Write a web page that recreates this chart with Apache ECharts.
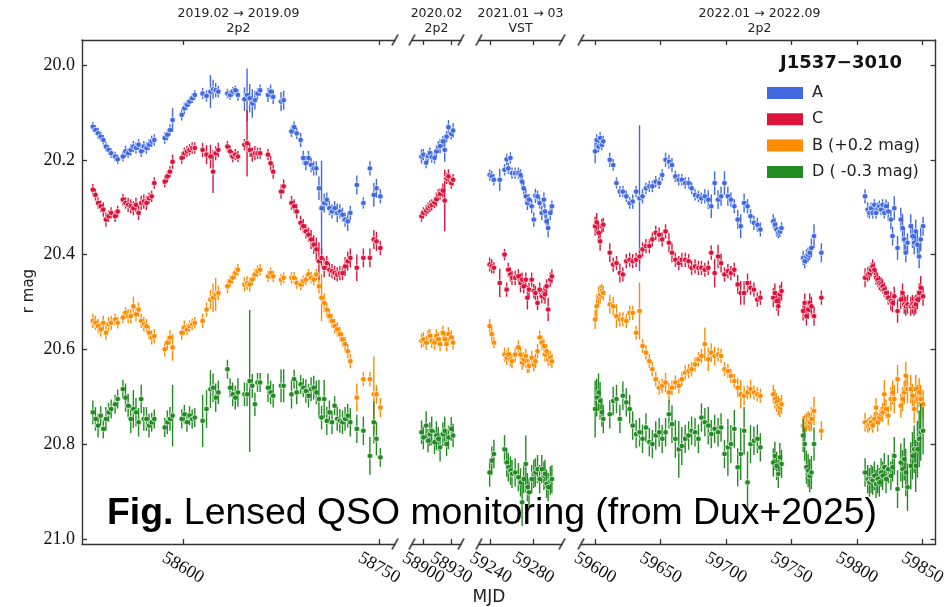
<!DOCTYPE html>
<html><head><meta charset="utf-8">
<script src="https://cdn.jsdelivr.net/npm/echarts@6/dist/echarts.min.js"></script>
<style>html,body{margin:0;padding:0;background:#fff}#c{width:949px;height:607px}</style>
</head><body><div id="c"></div>
<script>
// ---------------- DATA ----------------
const seriesNames = ['A', 'C', 'B (+0.2 mag)', 'D ( -0.3 mag)'];
const seriesColors = ['#4169E1', '#DC143C', '#FF8C00', '#228B22'];
const objectName = 'J1537\u22123010';
const panelTitles = [['2019.02 \u2192 2019.09', '2p2'], ['2020.02', '2p2'], ['2021.01 \u2192 03', 'VST'], ['2022.01 \u2192 2022.09', '2p2']];
const xTicks1 = [58600, 58750];
const xTicks2 = [58900, 58930];
const xTicks3 = [59240, 59280];
const xTicks4 = [59600, 59650, 59700, 59750, 59800, 59850];
const yTicks = [20.0, 20.2, 20.4, 20.6, 20.8, 21.0];

// Panel 1 (2019)
const mjd1 = [58531, 58533, 58535, 58537, 58539, 58541, 58543, 58545, 58548, 58550, 58554, 58556, 58558, 58560, 58562, 58564, 58566, 58568, 58570, 58572, 58574, 58576, 58578,
  58586, 58588, 58590, 58592,
  58599, 58601, 58603, 58605, 58607, 58609,
  58615, 58618, 58621, 58623, 58625, 58627,
  58634, 58636, 58638, 58640, 58642,
  58647, 58649, 58651, 58653, 58655, 58657, 58659,
  58665, 58667, 58669,
  58675, 58677,
  58683, 58685, 58687, 58690, 58692, 58694, 58696, 58698, 58700, 58702, 58704, 58706, 58708, 58710, 58712, 58714, 58716, 58718, 58720, 58722, 58724, 58726, 58728,
  58733, 58738, 58743, 58746, 58748, 58751];
const A1 = [20.130, 20.137, 20.144, 20.151, 20.158, 20.172, 20.179, 20.186, 20.193, 20.199, 20.193, 20.182, 20.186, 20.179, 20.172, 20.175, 20.168, 20.182, 20.172, 20.175, 20.168, 20.161, 20.158,
  20.154, 20.147, 20.137, 20.116,
  20.105, 20.091, 20.084, 20.077, 20.070, 20.063,
  20.060, 20.065, 20.056, 20.051, 20.053, 20.056,
  20.060, 20.063, 20.056, 20.053, 20.063,
  20.072, 20.063, 20.070, 20.081, 20.074, 20.060, 20.053,
  20.063, 20.056, 20.067,
  20.077, 20.074,
  20.140, 20.131, 20.144, 20.158, 20.196, 20.207, 20.196, 20.211, 20.218, 20.218, 20.260, 20.302, 20.291, 20.284, 20.302, 20.309, 20.302, 20.312, 20.309, 20.316, 20.326, 20.330, 20.312,
  20.253, 20.291, 20.218, 20.274, 20.260, 20.277];
const C1 = [20.263, 20.274, 20.291, 20.298, 20.305, 20.326, 20.319, 20.312, 20.319, 20.309, 20.284, 20.291, 20.295, 20.298, 20.302, 20.295, 20.312, 20.291, 20.288, 20.291, 20.281, 20.277, 20.249,
  20.246, 20.235, 20.225, 20.204,
  20.196, 20.186, 20.182, 20.179, 20.175, 20.175,
  20.179, 20.189, 20.193, 20.225, 20.186, 20.179,
  20.172, 20.182, 20.193, 20.189, 20.193,
  20.168, 20.165, 20.179, 20.189, 20.186, 20.186, 20.186,
  20.189, 20.207, 20.225,
  20.267, 20.256,
  20.291, 20.298, 20.309, 20.333, 20.340, 20.351, 20.358, 20.368, 20.379, 20.389, 20.414, 20.407, 20.428, 20.418, 20.432, 20.435, 20.439, 20.442, 20.439, 20.439, 20.425, 20.414, 20.407,
  20.428, 20.407, 20.407, 20.368, 20.372, 20.386];
const B1 = [20.540, 20.544, 20.551, 20.558, 20.544, 20.565, 20.547, 20.544, 20.537, 20.544, 20.533, 20.523, 20.530, 20.530, 20.509, 20.526, 20.516, 20.540, 20.547, 20.551, 20.565, 20.575, 20.572,
  20.600, 20.586, 20.575, 20.596,
  20.565, 20.554, 20.558, 20.551, 20.547, 20.544,
  20.540, 20.516, 20.495, 20.491, 20.484, 20.481,
  20.467, 20.456, 20.449, 20.439, 20.432,
  20.463, 20.460, 20.463, 20.453, 20.442, 20.435, 20.432,
  20.446, 20.439, 20.446,
  20.453, 20.449,
  20.449, 20.449, 20.460, 20.463, 20.456, 20.453, 20.442, 20.449, 20.453, 20.442, 20.467, 20.491, 20.502, 20.516, 20.530, 20.540, 20.551, 20.558, 20.568, 20.579, 20.589, 20.604, 20.625,
  20.702, 20.663, 20.663, 20.695, 20.695, 20.723];
const D1 = [20.733, 20.747, 20.761, 20.740, 20.768, 20.747, 20.733, 20.726, 20.716, 20.705, 20.684, 20.702, 20.719, 20.747, 20.726, 20.733, 20.754, 20.705, 20.747, 20.747, 20.761, 20.754, 20.747,
  20.765, 20.754, 20.747, 20.740,
  20.747, 20.737, 20.754, 20.740, 20.747, 20.744,
  20.751, 20.726, 20.684, 20.681, 20.702, 20.691,
  20.642, 20.681, 20.695, 20.702, 20.691,
  20.695, 20.695, 20.667, 20.677, 20.716, 20.670, 20.670,
  20.681, 20.691, 20.698,
  20.677, 20.677,
  20.695, 20.663, 20.691, 20.674, 20.681, 20.688, 20.698, 20.684, 20.681, 20.691, 20.705, 20.744, 20.705, 20.751, 20.733, 20.754, 20.719, 20.747, 20.751, 20.754, 20.747, 20.740, 20.754,
  20.768, 20.772, 20.825, 20.754, 20.789, 20.828];
// errors in mmag
const eA1 = [10,10,12,10,10,10,10,10,10,10,10,12,10,12,12,12,12,12,12,12,12,12,12, 12,12,12,25, 12,12,10,10,10,10, 12,12,35,20,15,12, 10,10,10,10,12, 25,56,30,30,20,12,12, 15,15,15, 20,20,
  12,12,12,15,15,15,15,15,15,15,25,100,20,15,15,15,15,20,15,15,15,20,15, 20,12,15,25,20,15];
const eC1 = [12,12,12,12,15,15,12,12,12,12,12,12,15,15,15,15,15,15,15,15,12,12,12, 12,12,12,15, 12,12,12,12,12,12, 15,20,25,45,15,15, 12,12,12,12,12, 12,70,15,15,15,12,12, 12,15,15, 15,15,
  15,15,15,15,15,15,15,20,20,25,40,20,20,15,15,15,15,15,15,15,20,20,20, 28,20,20,20,20,15];
const eB1 = [15,15,15,15,15,15,15,15,12,12,12,12,15,15,20,15,15,15,15,15,15,15,15, 15,15,15,28, 15,15,12,12,12,12, 15,15,20,30,35,15, 15,12,12,12,12, 15,15,15,12,12,12,12, 12,12,12, 12,12,
  12,12,12,12,12,12,12,12,12,12,15,50,20,15,15,15,15,15,15,15,15,15,15, 30,15,15,80,20,20];
const eD1 = [25,25,25,20,20,25,20,20,20,20,20,30,25,30,40,30,30,30,25,25,25,20,20, 20,25,25,65, 20,20,20,20,20,20, 55,40,40,30,30,25, 20,20,25,25,30, 25,25,150,25,25,20,20, 30,25,25, 35,35,
  30,20,25,20,20,25,25,25,25,25,40,25,40,30,25,25,20,25,25,25,25,25,30, 30,30,40,45,35,20];

// Panel 2 (2020.02)
const mjd2 = [58898, 58900, 58903, 58905, 58907, 58909, 58912, 58914, 58916, 58918, 58921, 58923, 58925, 58927, 58930, 58932];
const A2 = [20.193, 20.189, 20.206, 20.192, 20.186, 20.194, 20.196, 20.182, 20.173, 20.171, 20.161, 20.179, 20.151, 20.131, 20.145, 20.138];
const C2 = [20.319, 20.312, 20.307, 20.302, 20.298, 20.295, 20.290, 20.283, 20.274, 20.272, 20.265, 20.286, 20.239, 20.235, 20.249, 20.242];
const B2 = [20.582, 20.579, 20.586, 20.575, 20.572, 20.582, 20.586, 20.572, 20.579, 20.589, 20.565, 20.579, 20.589, 20.568, 20.575, 20.586];
const D2 = [20.775, 20.786, 20.761, 20.793, 20.779, 20.772, 20.796, 20.782, 20.789, 20.807, 20.779, 20.772, 20.800, 20.786, 20.768, 20.782];
const eA2 = [15,12,12,12,12,12,12,12,12,15,12,25,12,15,12,15];
const eC2 = [12,12,12,12,12,12,12,15,12,12,15,65,12,15,12,12];
const eB2 = [15,15,15,15,15,15,15,15,15,15,15,15,15,15,15,15];
const eD2 = [25,25,30,25,25,30,25,30,25,30,25,30,25,25,25,25];

// Panel 3 (2021, VST)
const mjd3 = [59239, 59241, 59243, 59248.5, 59253, 59255, 59256.5, 59258.5, 59260, 59263, 59266, 59268, 59269.5, 59271, 59273, 59274.5, 59276, 59278.5, 59280.5, 59282, 59284, 59286, 59288, 59290, 59291, 59292.5, 59294, 59296, 59297.5];
const A3 = [20.232, 20.235, 20.242, 20.242, 20.221, 20.199, 20.218, 20.196, 20.228, 20.228, 20.228, 20.232, 20.246, 20.260, 20.277, 20.291, 20.284, 20.298, 20.326, 20.276, 20.277, 20.291, 20.312, 20.284, 20.309, 20.330, 20.344, 20.312, 20.298];
const C3 = [20.421, 20.425, 20.428, 20.460, 20.400, 20.474, 20.432, 20.442, 20.449, 20.449, 20.446, 20.460, 20.453, 20.467, 20.453, 20.491, 20.474, 20.453, 20.477, 20.481, 20.502, 20.474, 20.488, 20.481, 20.484, 20.467, 20.516, 20.453, 20.446];
const B3 = [20.551, 20.568, 20.586, null, 20.611, 20.618, 20.611, 20.621, 20.625, 20.611, 20.596, 20.611, 20.628, 20.621, 20.614, 20.635, 20.635, 20.618, 20.632, 20.625, 20.604, 20.575, 20.586, 20.593, 20.611, 20.604, 20.621, 20.618, 20.625];
const D3 = [20.860, 20.835, 20.821, null, 20.811, 20.839, 20.849, 20.856, 20.863, 20.860, 20.870, 20.881, 20.923, 20.874, 20.842, 20.891, 20.902, 20.874, 20.863, 20.860, 20.853, 20.874, 20.853, 20.867, 20.863, 20.884, 20.891, 20.877, 20.874];
const eA3 = [12,12,12,23,12,12,12,12,12,12,12,12,12,12,15,15,12,15,15,15,12,12,15,15,15,15,20,15,12];
const eC3 = [15,15,12,30,12,15,15,15,15,15,15,20,15,15,15,25,15,15,15,15,15,15,15,15,20,15,25,15,15];
const eB3 = [15,15,12,0,15,15,15,15,15,15,15,15,15,15,15,15,15,15,15,15,15,15,15,15,15,15,15,15,15];
const eD3 = [30,30,30,0,30,30,30,30,30,30,30,30,50,30,60,30,30,30,30,30,30,30,30,30,30,30,30,30,30];

// Panel 4 (2022)
const mjd4 = [59600.0, 59601.2, 59602.6, 59603.8, 59605.1, 59606.2,
  59611.2, 59613.8, 59616.3, 59618.9, 59621.2, 59623.8, 59626.4, 59628.7, 59631.3, 59633.9, 59636.2, 59638.8, 59641.4, 59643.7, 59646.3, 59648.9, 59651.2, 59653.8, 59656.4, 59658.7, 59661.3, 59663.9, 59666.2, 59668.8, 59671.4, 59673.7, 59676.3, 59678.9, 59681.2, 59683.8, 59686.4, 59688.7, 59691.3, 59693.9, 59696.2, 59698.8, 59701.4, 59703.7, 59706.3, 59708.9, 59711.2, 59713.8, 59716.4, 59718.7, 59721.3, 59723.9, 59726.2,
  59736.1, 59737.3, 59738.6, 59739.9, 59741.1, 59742.4,
  59758.9, 59760.1, 59761.4, 59762.7, 59763.9, 59765.2, 59767.2, 59772.8,
  59806.2, 59808.2, 59809.5, 59810.8, 59812.0, 59813.3, 59814.6, 59815.8, 59817.1, 59818.4, 59819.6, 59820.9, 59822.2, 59823.9, 59825.9, 59827.2, 59828.5, 59831.0, 59833.5, 59834.8, 59836.1, 59837.3, 59838.6, 59841.1, 59842.4, 59843.7, 59844.9, 59846.2, 59847.5, 59848.7, 59850.5];
const A4 = [20.182, 20.158, 20.172, 20.154, 20.168, 20.161,
  20.200, 20.211, 20.249, 20.267, 20.267, 20.277, 20.291, 20.288, 20.267, 20.281, 20.277, 20.260, 20.256, 20.256, 20.246, 20.249, 20.232, 20.200, 20.204, 20.211, 20.235, 20.242, 20.242, 20.249, 20.249, 20.260, 20.274, 20.277, 20.281, 20.277, 20.284, 20.298, 20.249, 20.284, 20.277, 20.249, 20.277, 20.284, 20.298, 20.326, 20.340, 20.291, 20.298, 20.319, 20.333, 20.337, 20.347,
  20.330, 20.337, 20.347, 20.354, 20.351, 20.344,
  20.407, 20.414, 20.404, 20.400, 20.396, 20.386, 20.361, 20.396,
  20.277, 20.305, 20.312, 20.302, 20.312, 20.295, 20.312, 20.302, 20.298, 20.305, 20.295, 20.312, 20.298, 20.309, 20.326, 20.361, 20.302, 20.386, 20.326, 20.344, 20.368, 20.396, 20.375, 20.340, 20.361, 20.375, 20.351, 20.379, 20.404, 20.368, 20.340];
const C4 = [20.340, 20.332, 20.354, 20.372, 20.340, 20.337,
  20.396, 20.421, 20.418, 20.439, 20.442, 20.414, 20.411, 20.414, 20.411, 20.404, 20.389, 20.382, 20.382, 20.368, 20.354, 20.358, 20.368, 20.351, 20.375, 20.396, 20.411, 20.418, 20.411, 20.411, 20.414, 20.428, 20.425, 20.428, 20.428, 20.432, 20.428, 20.396, 20.439, 20.404, 20.418, 20.442, 20.435, 20.439, 20.432, 20.463, 20.481, 20.481, 20.460, 20.470, 20.474, 20.495, 20.491,
  20.491, 20.481, 20.498, 20.509, 20.484, 20.477,
  20.519, 20.502, 20.530, 20.516, 20.502, 20.509, 20.530, 20.491,
  20.449, 20.442, 20.439, 20.432, 20.425, 20.432, 20.449, 20.453, 20.460, 20.463, 20.467, 20.474, 20.481, 20.491, 20.498, 20.502, 20.488, 20.519, 20.495, 20.481, 20.505, 20.509, 20.505, 20.509, 20.505, 20.509, 20.505, 20.495, 20.481, 20.470, 20.488];
const B4 = [20.537, 20.509, 20.488, 20.484, 20.477, 20.481,
  20.505, 20.509, 20.530, 20.537, 20.537, 20.540, 20.523, 20.523, 20.565, 20.519, 20.593, 20.607, 20.625, 20.642, 20.663, 20.681, 20.677, 20.670, 20.691, 20.681, 20.670, 20.677, 20.663, 20.649, 20.646, 20.642, 20.632, 20.621, 20.614, 20.589, 20.621, 20.607, 20.614, 20.611, 20.614, 20.642, 20.646, 20.656, 20.667, 20.681, 20.695, 20.698, 20.691, 20.684, 20.691, 20.695, 20.698,
  20.695, 20.705, 20.712, 20.719, 20.723, 20.716,
  20.761, 20.758, 20.754, 20.751, 20.754, 20.747, 20.730, 20.772,
  20.754, 20.761, 20.758, 20.754, 20.761, 20.747, 20.723, 20.754, 20.744, 20.737, 20.733, 20.695, 20.726, 20.740, 20.705, 20.691, 20.705, 20.663, 20.719, 20.705, 20.691, 20.656, 20.684, 20.684, 20.698, 20.726, 20.684, 20.705, 20.691, 20.705, 20.716];
const D4 = [20.726, 20.702, 20.691, 20.709, 20.733, 20.747,
  20.737, 20.709, 20.705, 20.747, 20.698, 20.712, 20.726, 20.761, 20.779, 20.775, 20.789, 20.765, 20.796, 20.800, 20.782, 20.775, 20.789, 20.775, 20.737, 20.758, 20.789, 20.811, 20.804, 20.789, 20.782, 20.772, 20.775, 20.789, 20.744, 20.754, 20.761, 20.779, 20.768, 20.775, 20.765, 20.821, 20.807, 20.800, 20.768, 20.849, 20.821, 20.772, 20.881, 20.800, 20.793, 20.789, 20.807,
  20.839, 20.825, 20.846, 20.863, 20.828, 20.842,
  20.782, 20.800, 20.849, 20.856, 20.867, 20.860, 20.800, null,
  20.860, 20.874, 20.881, 20.874, 20.877, 20.867, 20.884, 20.874, 20.881, 20.860, 20.867, 20.849, 20.874, 20.853, 20.867, 20.849, 20.825, 20.895, 20.839, 20.853, 20.832, 20.860, 20.891, 20.846, 20.825, 20.811, 20.846, 20.811, 20.789, 20.775, 20.772];
const eA4 = [25,12,12,12,12,12,
  15,12,12,12,12,12,12,15,12,154,15,12,12,12,12,12,12,15,15,15,12,12,12,12,12,12,12,12,12,15,20,25,25,20,20,25,20,15,15,20,25,20,15,15,15,15,15,
  15,15,15,12,12,12,
  15,15,15,15,15,20,25,20,
  15,15,12,12,12,12,12,12,12,12,12,12,15,20,20,20,25,25,25,30,25,20,20,25,25,25,25,25,25,25,20];
const eC4 = [20,20,20,20,15,15,
  20,15,15,20,15,15,15,15,15,15,15,15,15,15,15,15,15,15,20,20,15,15,15,15,15,15,15,15,15,15,15,15,30,25,20,15,15,15,15,20,25,25,20,15,15,15,15,
  20,20,20,20,20,20,
  20,20,20,20,20,20,20,15,
  20,15,15,15,15,15,15,15,15,15,15,15,15,15,20,20,20,25,20,20,20,20,20,20,20,20,20,20,20,25,20];
const eB4 = [20,25,20,20,15,15,
  20,20,25,15,15,15,15,15,15,60,15,15,15,15,15,15,15,20,20,15,15,15,15,15,15,15,15,15,15,35,25,20,20,15,15,15,15,15,15,20,30,20,15,20,15,15,15,
  20,20,20,20,20,20,
  20,20,20,20,20,25,30,20,
  20,15,15,15,15,15,20,20,15,15,20,30,20,20,25,25,30,30,25,25,25,30,30,30,25,30,30,30,30,30,30];
const eD4 = [60,40,40,40,30,30,
  30,30,30,30,30,30,30,30,30,30,30,30,30,30,30,30,30,30,30,40,40,60,40,30,30,30,30,30,30,30,40,30,30,30,30,30,60,40,40,40,55,50,65,40,30,30,30,
  30,30,30,30,30,30,
  35,35,35,35,35,35,35,0,
  30,30,30,30,30,30,30,30,30,30,30,30,30,30,30,30,40,40,40,40,45,50,50,50,50,50,55,60,60,60,50];

// ---------------- LAYOUT ----------------
const panels = [
  { mjd: mjd1, mags: [A1, C1, B1, D1], errs: [eA1, eC1, eB1, eD1], ticks: xTicks1, range: [58522.7, 58762.2], px: [82, 395] },
  { mjd: mjd2, mags: [A2, C2, B2, D2], errs: [eA2, eC2, eB2, eD2], ticks: xTicks2, range: [58887.8, 58940.5], px: [412, 461] },
  { mjd: mjd3, mags: [A3, C3, B3, D3], errs: [eA3, eC3, eB3, eD3], ticks: xTicks3, range: [59229.0, 59307.0], px: [479, 562] },
  { mjd: mjd4, mags: [A4, C4, B4, D4], errs: [eA4, eC4, eB4, eD4], ticks: xTicks4, range: [59589.2, 59860.1], px: [581, 938] }
];
const TOP = 40, BOTTOM = 544;
const yRange = [19.947, 21.011];
const AX = '#333';
const serif = 'Liberation Serif';
const sans = 'DejaVu Sans';

function renderItem(params, api) {
  const x = api.value(0), y = api.value(1), e = api.value(2);
  const p = api.coord([x, y]);
  const p1 = api.coord([x, y - e]);
  const p2 = api.coord([x, y + e]);
  const color = api.visual('color');
  return {
    type: 'group',
    children: [
      { type: 'line', shape: { x1: p[0], y1: p1[1], x2: p[0], y2: p2[1] }, style: { stroke: color, lineWidth: 1.4 } },
      { type: 'circle', shape: { cx: p[0], cy: p[1], r: 2.8 }, style: { fill: color, stroke: '#fff', lineWidth: 0.7 } }
    ]
  };
}

const tickLabelStyle = { rotate: -30, align: 'center', verticalAlign: 'middle', margin: 24,
  showMinLabel: true, showMaxLabel: true, hideOverlap: false,
  fontFamily: serif, fontSize: 18, color: '#111', formatter: v => String(v) };

const grid = [], xAxis = [], yAxis = [], series = [];
panels.forEach((pn, i) => {
  grid.push({ left: pn.px[0], width: pn.px[1] - pn.px[0], top: TOP, height: BOTTOM - TOP, containLabel: false });
  const common = { type: 'value', gridIndex: i, min: pn.range[0], max: pn.range[1], splitLine: { show: false },
    axisLine: { show: true, onZero: false, lineStyle: { color: AX, width: 1.4 } } };
  // bottom axis: ticks for all values, labels one per axis-layer where labels would collide
  const labelSets = (pn.ticks.length === 2 && i === 1) ? [[pn.ticks[0]], [pn.ticks[1]]] : [pn.ticks];
  xAxis.push(Object.assign({}, common, {
    position: 'bottom',
    axisTick: { show: true, inside: true, length: 5, customValues: pn.ticks, lineStyle: { color: AX, width: 1.3 } },
    axisLabel: Object.assign({ show: true, customValues: labelSets[0] }, tickLabelStyle)
  }));
  xAxis.push(Object.assign({}, common, {
    position: 'top',
    axisTick: { show: true, inside: true, length: 5, customValues: pn.ticks, lineStyle: { color: AX, width: 1.3 } },
    axisLabel: { show: false }
  }));
  const bottomIdx = xAxis.length - 2;
  if (labelSets.length > 1) {
    xAxis.push(Object.assign({}, common, {
      position: 'bottom', offset: 0,
      axisLine: { show: false, onZero: false },
      axisTick: { show: false },
      axisLabel: Object.assign({ show: true, customValues: labelSets[1] }, tickLabelStyle)
    }));
  }
  const yBase = { type: 'value', gridIndex: i, inverse: true, min: yRange[0], max: yRange[1], splitLine: { show: false } };
  if (i === 0) {
    yAxis.push(Object.assign(yBase, {
      position: 'left',
      axisLine: { show: true, lineStyle: { color: AX, width: 1.4 } },
      axisTick: { show: true, inside: true, length: 5, customValues: yTicks, lineStyle: { color: AX, width: 1.3 } },
      axisLabel: { show: true, customValues: yTicks, margin: 7, showMinLabel: true, showMaxLabel: true,
        fontFamily: serif, fontSize: 18, color: '#111', formatter: v => v.toFixed(1) }
    }));
  } else if (i === 3) {
    yAxis.push(Object.assign(yBase, {
      position: 'right',
      axisLine: { show: true, lineStyle: { color: AX, width: 1.4 } },
      axisTick: { show: true, inside: true, length: 5, customValues: yTicks, lineStyle: { color: AX, width: 1.3 } },
      axisLabel: { show: false }
    }));
  } else {
    yAxis.push(Object.assign(yBase, { show: false }));
  }
  for (let s = 0; s < 4; s++) {
    const data = [];
    pn.mjd.forEach((m, k) => {
      const v = pn.mags[s][k];
      if (v === null || v === undefined) return;
      data.push([m, v, (pn.errs[s][k] || 0) / 1000]);
    });
    series.push({
      type: 'custom', name: seriesNames[s], xAxisIndex: bottomIdx, yAxisIndex: i,
      renderItem, clip: true, encode: { x: 0, y: 1 }, dimensions: ['mjd', 'mag', 'err'],
      itemStyle: { color: seriesColors[s] }, data, z: 2 + s
    });
  }
});

// graphics: panel titles, break marks, axis names, legend title, caption
const graphic = [];
panels.forEach((pn, i) => {
  const cx = (pn.px[0] + pn.px[1]) / 2;
  const t = panelTitles[i];
  graphic.push({ type: 'text', x: cx, y: 14, style: { text: t[0], fontFamily: sans, fontSize: 12.5, fill: '#222', align: 'center', verticalAlign: 'middle' } });
  graphic.push({ type: 'text', x: cx, y: 29, style: { text: t[1], fontFamily: sans, fontSize: 12.5, fill: '#222', align: 'center', verticalAlign: 'middle' } });
});
const breakXs = [395, 412, 461, 479, 562, 581];
breakXs.forEach(bx => {
  [TOP, BOTTOM].forEach(by => {
    graphic.push({ type: 'line', shape: { x1: bx - 3, y1: by + 5.5, x2: bx + 3, y2: by - 5.5 }, style: { stroke: '#555', lineWidth: 1.8 } });
  });
});
graphic.push({ type: 'text', x: 29, y: 291, rotation: Math.PI / 2, style: { text: 'r mag', fontFamily: sans, fontSize: 15, fill: '#222', align: 'center', verticalAlign: 'middle' } });
graphic.push({ type: 'text', x: 489, y: 598, style: { text: 'MJD', fontFamily: sans, fontSize: 17, fill: '#222', align: 'center', verticalAlign: 'middle' } });
graphic.push({ type: 'text', x: 841, y: 63, style: { text: objectName, fontFamily: sans, fontWeight: 'bold', fontSize: 18, fill: '#111', align: 'center', verticalAlign: 'middle' } });
graphic.push({ type: 'text', x: 107, y: 514, z: 100, style: {
  text: '{b|Fig.} Lensed QSO monitoring (from Dux+2025)', fontFamily: 'Liberation Sans', fontSize: 37.4, fill: '#000',
  align: 'left', verticalAlign: 'middle',
  rich: { b: { fontFamily: 'Liberation Sans', fontWeight: 'bold', fontSize: 37.4, fill: '#000' } } } });

const chart = echarts.init(document.getElementById('c'), null, { renderer: 'canvas' });
chart.setOption({
  animation: false,
  backgroundColor: '#fff',
  grid, xAxis, yAxis, series, graphic,
  legend: {
    show: true, orient: 'vertical', left: 762, top: 80, itemWidth: 36, itemHeight: 12, itemGap: 10.3,
    selectedMode: false,
    data: seriesNames.map((n, i) => ({ name: n, icon: 'rect', itemStyle: { color: seriesColors[i] } })),
    textStyle: { fontFamily: sans, fontSize: 16, color: '#222', padding: [0, 0, 0, 4] }
  }
});
</script>
</body></html>
